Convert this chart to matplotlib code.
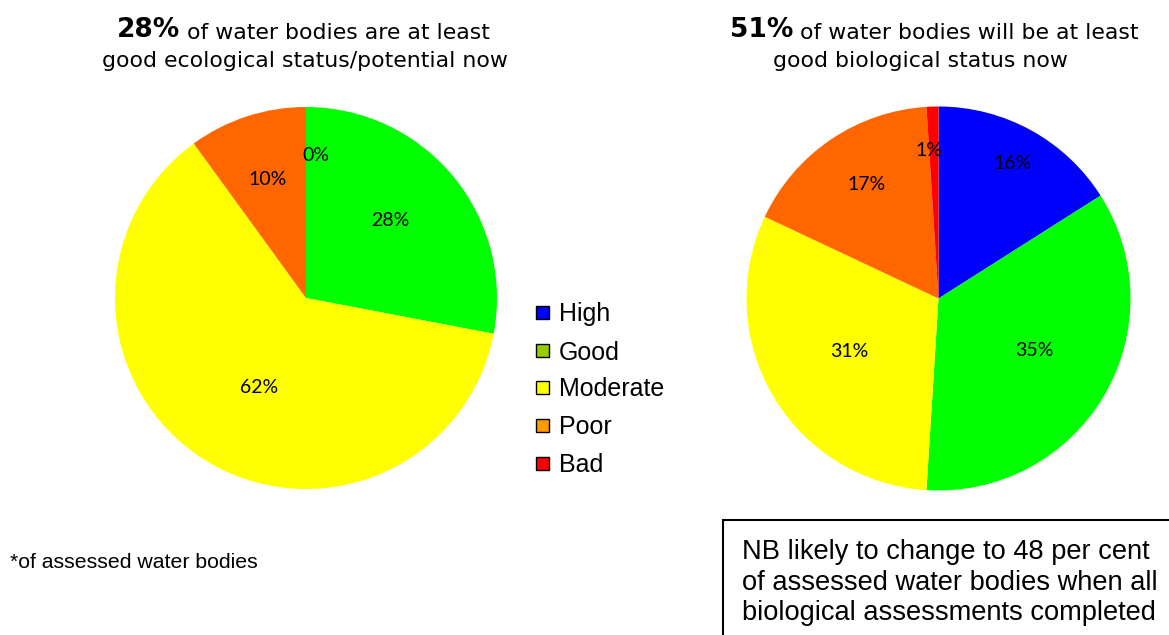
import matplotlib
matplotlib.use("Agg")
import matplotlib.pyplot as plt
import numpy as np
from matplotlib.patches import Rectangle

# ---------------- data ----------------
categories = ["High", "Good", "Moderate", "Poor", "Bad"]
now_values = [0, 28, 62, 10, 0]            # ecological status/potential now (%)
bio_values = [16, 35, 31, 17, 1]           # biological status now (%)
pie_colors = ["#0000FF", "#00FF00", "#FFFF00", "#FF6600", "#FF0000"]
legend_colors = ["#0000FF", "#99CC00", "#FFFF00", "#FF9900", "#FF0000"]
left_title_big = "28%"
left_title_rest = " of water bodies are at least"
left_title_line2 = "good ecological status/potential now"
right_title_big = "51%"
right_title_rest = " of water bodies will be at least"
right_title_line2 = "good biological status now"
footnote = "*of assessed water bodies"
note_lines = ["NB likely to change to 48 per cent",
              "of assessed water bodies when all",
              "biological assessments completed"]

# ---------------- layout ----------------
W, H = 1169, 635
fig = plt.figure(figsize=(W / 100, H / 100), dpi=100)
fig.patch.set_facecolor("white")

TITLE_FONT = "DejaVu Sans"
LABEL_FONT = "Lato"
ARIAL = "Liberation Sans"


def fx(px):
    return px / W


def fy(py):
    return 1 - py / H


def pie_axes(cx, cy, r):
    ax = fig.add_axes([fx(cx - r), fy(cy + r), 2 * r / W, 2 * r / H])
    return ax


def draw_pie(ax, values, dists, angle_shift, hide):
    wedges, _ = ax.pie(values, colors=pie_colors, startangle=90,
                       counterclock=False, radius=1,
                       wedgeprops=dict(linewidth=0))
    ax.set_xlim(-1, 1)
    ax.set_ylim(-1, 1)
    ax.set_aspect("auto")
    ax.axis("off")
    for i, w in enumerate(wedges):
        if i in hide:
            continue
        mid = np.deg2rad((w.theta1 + w.theta2) / 2 + angle_shift.get(i, 0))
        d = dists[i]
        ax.text(d * np.cos(mid), d * np.sin(mid), f"{values[i]}%",
                ha="center", va="center", fontsize=14,
                family=LABEL_FONT, color="black")
    return wedges


axL = pie_axes(306, 298, 191)
draw_pie(axL, now_values, [0.75, 0.6, 0.53, 0.65, 0.75],
         {0: -4, 1: 3, 2: 5}, hide={4})

axR = pie_axes(938.5, 298.5, 192)
draw_pie(axR, bio_values, [0.8, 0.57, 0.54, 0.7, 0.77],
         {1: 2, 3: -2, 4: 2}, hide=set())

# ---------------- titles ----------------
def title(x_left, big, rest, line2_center, line2):
    t = fig.text(fx(x_left), fy(37), big, ha="left", va="baseline",
                 fontsize=19, fontweight="bold", family=TITLE_FONT)
    plt.annotate(rest, xy=(1, 0), xycoords=t, va="bottom", ha="left",
                 fontsize=15.8, family=TITLE_FONT, annotation_clip=False)
    fig.text(fx(line2_center), fy(67), line2, ha="center", va="baseline",
             fontsize=15.8, family=TITLE_FONT)


title(117, left_title_big, left_title_rest, 305, left_title_line2)
title(730, right_title_big, right_title_rest, 920, right_title_line2)

# ---------------- legend ----------------
row_y = [312, 350, 387, 425, 463]
for i, (lab, col) in enumerate(zip(categories, legend_colors)):
    y = row_y[i]
    fig.patches.append(Rectangle((fx(536), fy(y + 6.5)), 13 / W, 13 / H,
                                 facecolor=col, edgecolor="black",
                                 linewidth=1.0, transform=fig.transFigure,
                                 figure=fig))
    fig.text(fx(559), fy(y), lab, ha="left", va="center_baseline",
             fontsize=18, family=ARIAL)

# ---------------- footnote ----------------
fig.text(fx(10), fy(568), footnote, ha="left", va="baseline",
         fontsize=15.3, family=ARIAL)

# ---------------- note box ----------------
fig.patches.append(Rectangle((fx(723), fy(640)), 460 / W, 120 / H,
                             facecolor="white", edgecolor="black",
                             linewidth=1.5, transform=fig.transFigure,
                             figure=fig, clip_on=False))
for i, line in enumerate(note_lines):
    fig.text(fx(742), fy(559 + 30.5 * i), line, ha="left", va="baseline",
             fontsize=19.6, family=ARIAL)

fig.savefig("out.png", dpi=100, facecolor="white")
